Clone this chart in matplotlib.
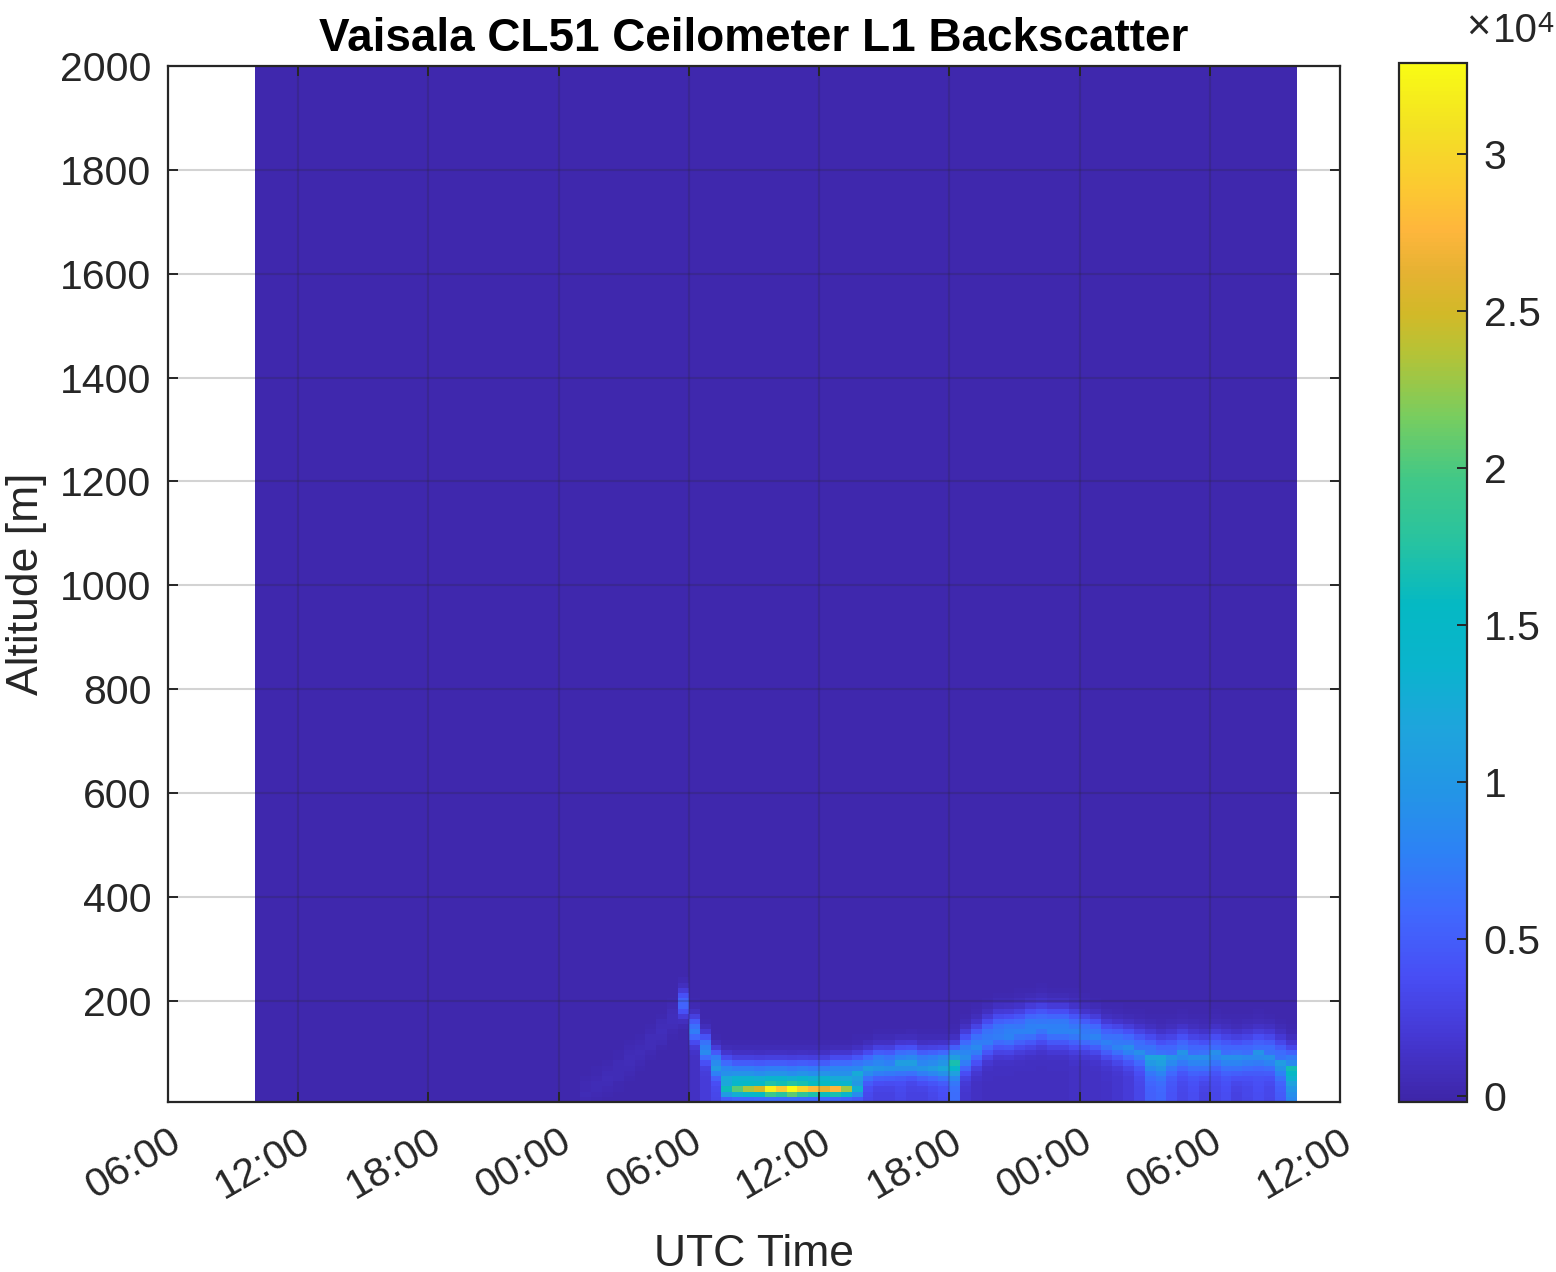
import numpy as np
import matplotlib
matplotlib.use("Agg")
import matplotlib.pyplot as plt
from matplotlib.colors import LinearSegmentedColormap

plt.rcParams['font.family'] = ['Liberation Sans', 'DejaVu Sans']

# time axis (hours from day 1 00:00 UTC), 30 min bins of the L1 data
data_start, data_end = 10.0, 58.0
tick_hours = [6, 12, 18, 24, 30, 36, 42, 48, 54, 60]
tick_labels = ['06:00', '12:00', '18:00', '00:00', '06:00',
               '12:00', '18:00', '00:00', '06:00', '12:00']

# aerosol / fog layer, 30 min steps from 25:00
layer_start = 25.0
layer_center = [20, 35, 50, 65, 85, 100, 120, 140, 165,
                195, 145, 110, 80,
                60, 55, 55, 55, 55, 55, 55, 55, 55, 55, 60, 60, 65,
                75, 80, 80, 85, 85, 80, 80, 80, 85,
                100, 115, 130, 140, 140, 145, 150, 155, 150, 150, 145,
                140, 135, 125, 120, 115, 110,
                100, 95, 100, 105, 100, 95, 105, 100, 95, 100, 105, 100, 90, 75]
layer_peak = [350, 400, 450, 450, 500, 500, 550, 600, 700,
              5500, 6500, 7500, 8500,
              9000, 9500, 9500, 9000, 9500, 9500, 9000, 9500, 9000, 9500, 9000, 9000, 8500,
              7500, 8000, 7500, 8000, 8500, 8000, 8500, 9500, 11000,
              8000, 7500, 7000, 7000, 7500, 7000, 7500, 7000, 7500, 7500, 7000,
              7000, 7000, 6500, 7000, 7000, 6500,
              7000, 6500, 6000, 6500, 6000, 6500, 6000, 6000, 6500, 6000, 6000, 6500, 6500, 8500]
layer_width = [25] * 9 + [25, 25, 25, 25] + [30] * 13 + [28] * 9 + [35] * 11 + [32] * 6 + [35] * 14
ground_val = [0] * 9 + [0, 1000, 2000, 3000] + [4000] * 13 + \
             [3000, 2500, 2500, 3000, 2500, 2500, 3000, 3500, 6000] + \
             [1500, 1000, 800, 800, 800, 800, 800, 800, 800, 800, 1000] + \
             [1000, 1000, 1200, 1500, 2000, 3000] + \
             [5000, 5500, 4000, 3000, 3500, 2500, 3000, 3500, 2500, 3000, 3500, 3000, 4500, 8000]
# thin strong return at ~28 m during the fog morning
fog_peak = [0] * 13 + [9000, 12000, 15000, 17000, 24000, 21000, 27000,
                       22000, 20000, 18000, 21000, 16000, 7000] + [0] * 40
background = 150

# parula-like colormap
parula_colors = [(62, 38, 168), (69, 55, 210), (72, 78, 245), (64, 104, 254),
                 (45, 130, 245), (35, 150, 230), (30, 165, 220), (10, 180, 205),
                 (5, 185, 195), (40, 195, 160), (65, 200, 135), (120, 205, 95),
                 (180, 195, 55), (210, 185, 40), (230, 178, 50), (254, 182, 60),
                 (252, 200, 50), (243, 225, 35), (249, 251, 20)]
parula_pos = [0.0, 0.06, 0.12, 0.18, 0.24, 0.30, 0.36, 0.42, 0.48, 0.54, 0.60,
              0.66, 0.72, 0.76, 0.80, 0.84, 0.88, 0.94, 1.0]
parula = LinearSegmentedColormap.from_list(
    'parula', list(zip(parula_pos, [tuple(c / 255 for c in rgb) for rgb in parula_colors])))

# build backscatter field
t_edges = np.arange(data_start, data_end + 0.01, 0.5)
alt = np.arange(10, 2001, 10)
alt_edges = np.arange(5, 2006, 10)
field = np.full((alt.size, t_edges.size - 1), float(background))
first = int((layer_start - data_start) / 0.5)
for k in range(len(layer_center)):
    col = layer_peak[k] * np.exp(-((alt - layer_center[k]) / layer_width[k]) ** 2)
    col += np.where(alt < layer_center[k], ground_val[k], 0)
    col += fog_peak[k] * np.exp(-((alt - 28) / 10) ** 2)
    field[:, first + k] += col

fig = plt.figure(figsize=(15.56, 12.72), dpi=100)
ax = fig.add_axes([168 / 1556, 170 / 1272, 1172 / 1556, 1036 / 1272])
dark = (0.15, 0.15, 0.15)

mesh = ax.pcolormesh(t_edges, alt_edges, field, cmap=parula, vmin=-190, vmax=32900,
                     shading='flat', antialiased=False)
ax.set_xlim(6, 60)
ax.set_ylim(5, 2000)
ax.set_xticks(tick_hours)
ax.set_xticklabels(tick_labels, rotation=30, ha='right', va='top', rotation_mode='anchor')
ax.set_yticks(np.arange(200, 2001, 200))
ax.set_axisbelow(False)
ax.grid(True, color=dark, alpha=0.2, linewidth=1.5)
ax.tick_params(direction='in', length=7, width=1.4, colors=dark, labelsize=29.5,
               top=True, right=True)
ax.tick_params(axis='y', pad=12)
ax.tick_params(axis='x', pad=14)
for s in ax.spines.values():
    s.set_color(dark)
    s.set_linewidth(1.6)

ax.set_title('Vaisala CL51 Ceilometer L1 Backscatter', fontsize=33, fontweight='bold', pad=11)
ax.set_xlabel('UTC Time', fontsize=32, color=dark)
ax.set_ylabel('Altitude [m]', fontsize=32, color=dark)
ax.xaxis.set_label_coords(0.5, -0.127)
ax.yaxis.set_label_coords(-0.103, 0.5)

cax = fig.add_axes([1399 / 1556, 170 / 1272, 68 / 1556, 1039 / 1272])
cb = fig.colorbar(mesh, cax=cax)
cb.set_ticks([0, 5000, 10000, 15000, 20000, 25000, 30000])
cb.set_ticklabels(['0', '0.5', '1', '1.5', '2', '2.5', '3'])
cax.tick_params(direction='in', length=7, width=1.4, colors=dark, labelsize=29.5, pad=12)
cb.outline.set_edgecolor(dark)
cb.outline.set_linewidth(1.6)
# x10^4 multiplier above the colorbar
fig.text(1466 / 1556, 1 - 40 / 1272, '\u00d7', fontsize=30, color=dark, va='baseline', ha='left')
fig.text(1493 / 1556, 1 - 42 / 1272, '10', fontsize=29, color=dark, va='baseline', ha='left')
fig.text(1537 / 1556, 1 - 32 / 1272, '4', fontsize=21, color=dark, va='baseline', ha='left')

fig.savefig('out.png', dpi=100)
